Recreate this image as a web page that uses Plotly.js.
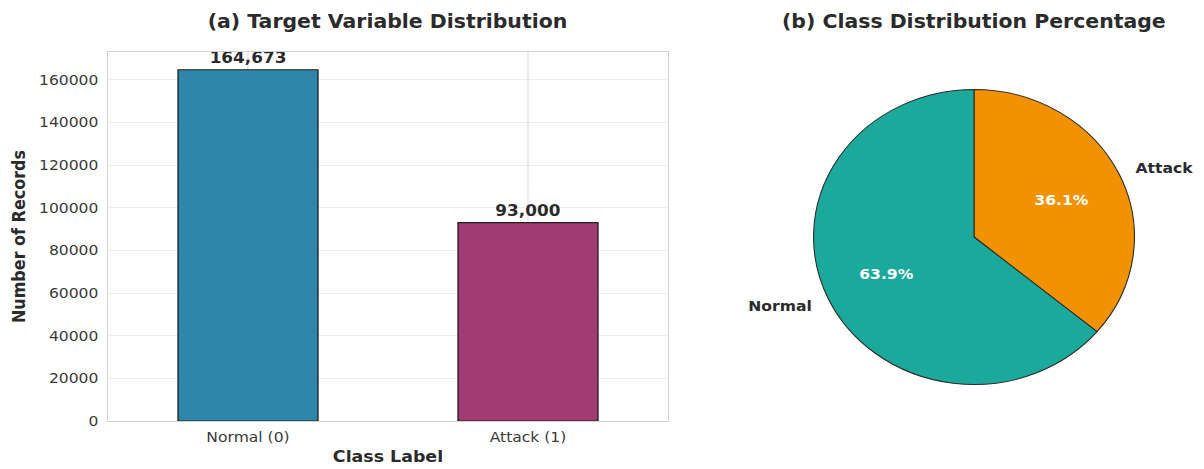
<!DOCTYPE html>
<html>
<head>
<meta charset="utf-8">
<script src="https://cdn.plot.ly/plotly-3.0.1.min.js"></script>
<style>
  html, body { margin: 0; padding: 0; background: #ffffff; overflow: hidden; }
  /* the figure is laid out narrower and widened horizontally */
  #chart { width: 1107px; height: 469px; transform: scaleX(1.0877); transform-origin: 0 0; }
</style>
</head>
<body>
<div id="chart"></div>
<script>
// Class counts
const barCategories = ['Normal (0)', 'Attack (1)'];
const barCounts = [164673, 93000];
const barColors = ['#2E86AB', '#A23B72'];

// Pie slices
const pieLabels = ['Normal', 'Attack'];
const pieColors = ['#1AA99A', '#F39200'];

// Y-axis ticks
const yTicks = [0, 20000, 40000, 60000, 80000, 100000, 120000, 140000, 160000];

const SX = 1.0877;
const W = 1107, H = 469;
const FONT = 'DejaVu Sans, Verdana, sans-serif';
const TXT = '#3a3a3a';
const DARK = '#2b2b2b';

// horizontal pixel position on the widened page -> layout pixel
const ux = px => px / SX;

// Bar panel frame (page pixels)
const barL = ux(108), barR = ux(668), barT = 52, barB = 421;

// Pie geometry (layout pixels)
const pieCx = ux(974), pieCy = 237, pieR = 147.5;

const total = barCounts.reduce((a, b) => a + b, 0);

const barTrace = {
  type: 'bar',
  x: barCategories,
  y: barCounts,
  width: 0.5,
  marker: { color: barColors, line: { color: '#1f1f1f', width: 1.2 } },
  texttemplate: '%{y:,}',
  textposition: 'outside',
  textfont: { family: FONT, size: 15.5, color: DARK, weight: 'bold' },
  cliponaxis: false,
  hoverinfo: 'x+y',
  xaxis: 'x', yaxis: 'y'
};

// Slices drawn clockwise from 12 o'clock in reverse order, so Normal
// runs counterclockwise from the top and Attack sits on the right.
const order = pieLabels.map((_, i) => i).reverse();
const pieTrace = {
  type: 'pie',
  labels: order.map(i => pieLabels[i]),
  values: order.map(i => barCounts[i]),
  sort: false,
  direction: 'clockwise',
  rotation: 0,
  textinfo: 'none',
  marker: { colors: order.map(i => pieColors[i]), line: { color: '#2a2a2a', width: 1 } },
  domain: {
    x: [(pieCx - pieR) / W, (pieCx + pieR) / W],
    y: [(H - pieCy - pieR) / H, (H - pieCy + pieR) / H]
  },
  showlegend: false
};

// Label and percentage annotations placed along each slice's mid-angle
const annotations = [];
let startDeg = 90;
barCounts.forEach((v, i) => {
  const frac = v / total;
  const mid = (startDeg + frac * 180) * Math.PI / 180;
  startDeg += frac * 360;
  const cx = Math.cos(mid), sy = Math.sin(mid);
  const lx = pieCx + 1.1 * pieR * cx, ly = pieCy - 1.1 * pieR * sy;
  annotations.push({
    xref: 'paper', yref: 'paper',
    x: lx / W, y: 1 - ly / H,
    xanchor: cx < 0 ? 'right' : 'left', yanchor: 'middle',
    text: '<b>' + pieLabels[i] + '</b>',
    showarrow: false,
    font: { family: FONT, size: 14.3, color: DARK }
  });
  const px = pieCx + 0.6 * pieR * cx, py = pieCy - 0.6 * pieR * sy;
  annotations.push({
    xref: 'paper', yref: 'paper',
    x: px / W, y: 1 - py / H,
    xanchor: 'center', yanchor: 'middle',
    text: '<b>' + (frac * 100).toFixed(1) + '%</b>',
    showarrow: false,
    font: { family: FONT, size: 14.3, color: '#ffffff' }
  });
});

// Panel titles
annotations.push({
  xref: 'paper', yref: 'paper',
  x: ((barL + barR) / 2) / W, y: 1 - 22 / H,
  xanchor: 'center', yanchor: 'middle',
  text: '<b>(a) Target Variable Distribution</b>',
  showarrow: false,
  font: { family: FONT, size: 18.8, color: DARK }
});
annotations.push({
  xref: 'paper', yref: 'paper',
  x: pieCx / W, y: 1 - 22 / H,
  xanchor: 'center', yanchor: 'middle',
  text: '<b>(b) Class Distribution Percentage</b>',
  showarrow: false,
  font: { family: FONT, size: 18.8, color: DARK }
});

const layout = {
  width: W, height: H,
  margin: { l: 0, r: 0, t: 0, b: 0 },
  paper_bgcolor: '#ffffff',
  plot_bgcolor: '#ffffff',
  showlegend: false,
  font: { family: FONT, color: TXT },
  xaxis: {
    domain: [barL / W, barR / W],
    anchor: 'y',
    range: [-0.5, 1.5],
    showgrid: true, gridcolor: '#ececec', gridwidth: 1,
    showline: true, linecolor: '#d2d2d2', linewidth: 1, mirror: true,
    ticks: '', tickfont: { family: FONT, size: 14.3, color: TXT },
    ticklabelstandoff: 3,
    title: { text: '<b>Class Label</b>', font: { family: FONT, size: 16, color: DARK }, standoff: 6 },
    automargin: false, zeroline: false, fixedrange: true
  },
  yaxis: {
    domain: [1 - barB / H, 1 - barT / H],
    anchor: 'x',
    range: [0, 173000],
    tickvals: yTicks,
    ticktext: yTicks.map(String),
    showgrid: true, gridcolor: '#ececec', gridwidth: 1,
    showline: true, linecolor: '#d2d2d2', linewidth: 1, mirror: true,
    ticks: '', tickfont: { family: FONT, size: 14.3, color: TXT },
    ticklabelstandoff: 5,
    title: { text: '<b>Number of Records</b>', font: { family: FONT, size: 16, color: DARK }, standoff: 8 },
    automargin: false, zeroline: false, fixedrange: true
  },
  annotations: annotations
};

Plotly.newPlot('chart', [barTrace, pieTrace], layout, { displayModeBar: false, staticPlot: true });
</script>
</body>
</html>
